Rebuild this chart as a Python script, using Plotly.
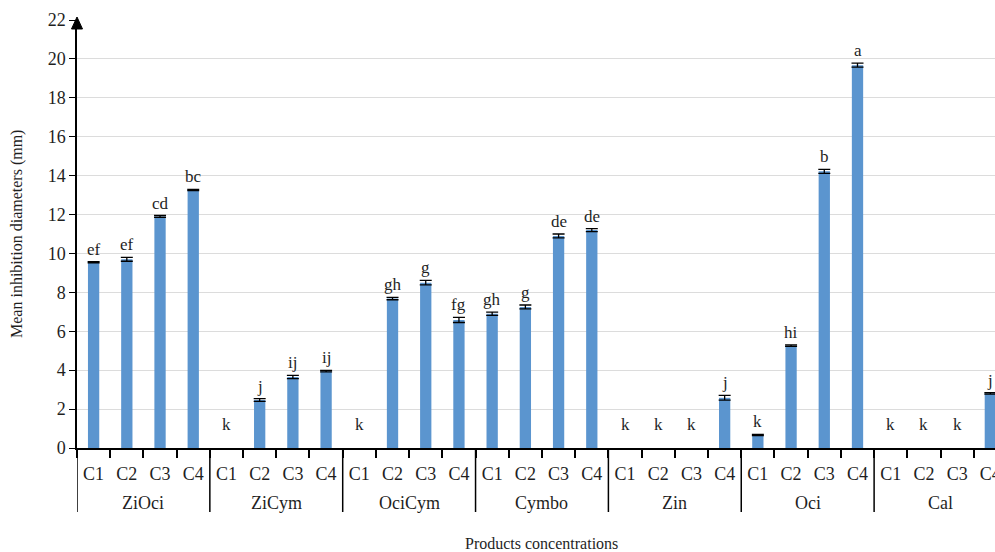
import plotly.graph_objects as go

# Products, concentration levels and measured inhibition zones (mm)
products = ["ZiOci", "ZiCym", "OciCym", "Cymbo", "Zin", "Oci", "Cal"]
concentrations = ["C1", "C2", "C3", "C4"]

means = [
    9.55, 9.70, 11.90, 13.26,   # ZiOci
    0.00, 2.47, 3.65, 3.95,     # ZiCym
    0.00, 7.68, 8.50, 6.58,     # OciCym
    6.90, 7.25, 10.90, 11.20,   # Cymbo
    0.00, 0.00, 0.00, 2.58,     # Zin
    0.67, 5.26, 14.22, 19.68,   # Oci
    0.00, 0.00, 0.00, 2.81,     # Cal
]
errors = [
    0.03, 0.10, 0.05, 0.03,
    0.00, 0.07, 0.08, 0.04,
    0.00, 0.06, 0.12, 0.13,
    0.08, 0.10, 0.10, 0.08,
    0.00, 0.00, 0.00, 0.12,
    0.03, 0.04, 0.10, 0.10,
    0.00, 0.00, 0.00, 0.04,
]
letters = [
    "ef", "ef", "cd", "bc",
    "k", "j", "ij", "ij",
    "k", "gh", "g", "fg",
    "gh", "g", "de", "de",
    "k", "k", "k", "j",
    "k", "hi", "b", "a",
    "k", "k", "k", "j",
]

FONT = "Liberation Serif"
TXT = "#1f1f1f"
BAR = "#5b95cf"

n = len(means)
xs = list(range(n))
tick_text = [concentrations[i % 4] for i in xs]

fig = go.Figure()
fig.add_trace(go.Bar(
    x=xs, y=means, width=0.34,
    marker=dict(color=BAR, line=dict(width=0)),
    hoverinfo="skip",
))

# error bars only where a zone was measured
err_idx = [i for i in xs if means[i] > 0]
fig.add_trace(go.Scatter(
    x=err_idx, y=[means[i] for i in err_idx], mode="markers",
    marker=dict(size=1, color="rgba(0,0,0,0)"),
    error_y=dict(type="data", array=[errors[i] for i in err_idx],
                 visible=True, color="#000000", thickness=1.3, width=6),
    hoverinfo="skip",
))

annotations = []
# significance letters above each bar
for i, (v, e, t) in enumerate(zip(means, errors, letters)):
    top = v + e
    annotations.append(dict(
        x=i, y=max(top, 0.55), xref="x", yref="y", text=t, showarrow=False,
        yanchor="bottom", yshift=1,
        font=dict(family=FONT, size=17, color=TXT),
    ))

# product group labels under the concentration labels
for g, name in enumerate(products):
    annotations.append(dict(
        x=1.5 + 4 * g, y=-0.1285, xref="x", yref="paper", text=name,
        showarrow=False, yanchor="middle",
        font=dict(family=FONT, size=18, color=TXT),
    ))

annotations.append(dict(
    x=13.5, y=-0.222, xref="x", yref="paper", text="Products concentrations",
    showarrow=False, yanchor="middle",
    font=dict(family=FONT, size=16, color=TXT),
))
annotations.append(dict(
    x=-0.0654, y=0.5, xref="paper", yref="paper",
    text="Mean inhibition diameters (mm)", textangle=-90,
    showarrow=False, xanchor="center", yanchor="middle",
    font=dict(family=FONT, size=16, color=TXT),
))

shapes = []
# vertical dividers between product groups
for g in range(len(products)):
    shapes.append(dict(
        type="line", xref="x", yref="paper",
        x0=-0.5 + 4 * g, x1=-0.5 + 4 * g, y0=0, y1=-0.1495,
        line=dict(color="#000000", width=1.5),
    ))
# arrow head on top of the value axis
shapes.append(dict(
    type="path", xref="paper", yref="paper",
    path="M -0.0060 0.9790 L 0 1.0070 L 0.0060 0.9790 Z",
    fillcolor="#000000", line=dict(color="#000000", width=1),
))

fig.update_layout(
    width=995, height=552,
    margin=dict(l=77, r=0, t=20, b=104, autoexpand=False),
    paper_bgcolor="white", plot_bgcolor="white",
    showlegend=False,
    font=dict(family=FONT, size=17, color=TXT),
    annotations=annotations, shapes=shapes,
    xaxis=dict(
        range=[-0.5, 27.14], automargin=False,
        tickmode="array", tickvals=xs, ticktext=tick_text,
        ticks="outside", ticklen=9, tickcolor="rgba(0,0,0,0)",
        tickfont=dict(family=FONT, size=18, color=TXT),
        ticklabeloverflow="allow",
        showgrid=False, zeroline=False,
        showline=True, linecolor="#000000", linewidth=1.5,
        minor=dict(tickmode="linear", tick0=-0.5, dtick=1,
                   ticks="outside", ticklen=8, tickcolor="#000000",
                   tickwidth=1.5, showgrid=False),
    ),
    yaxis=dict(
        range=[0, 22], tickmode="linear", tick0=0, dtick=2, automargin=False,
        ticks="outside", ticklen=6, tickwidth=1.2, tickcolor="#000000",
        tickfont=dict(family=FONT, size=18, color=TXT),
        showgrid=True, gridcolor="#dcdcdc", gridwidth=1.3,
        zeroline=False, showline=True, linecolor="#000000", linewidth=1.5,
    ),
)

fig.write_html("out.html")
